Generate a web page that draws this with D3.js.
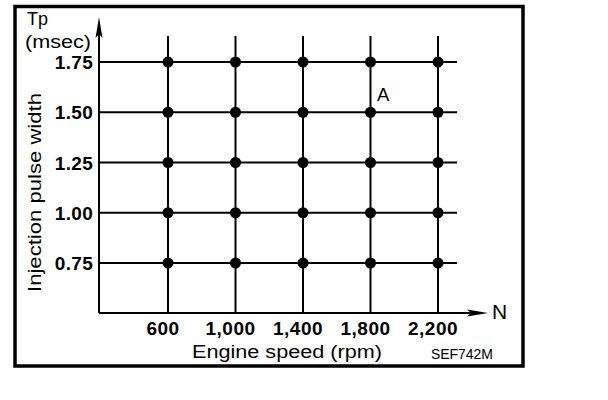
<!DOCTYPE html>
<html><head><meta charset="utf-8">
<script src="https://cdn.jsdelivr.net/npm/d3@7"></script>
<style>html,body{margin:0;padding:0;background:#fff}svg{display:block}</style>
</head><body><svg id="c" width="608" height="400"></svg>
<script>
const speeds = [600, 1000, 1400, 1800, 2200];
const speedLabels = ["600", "1,000", "1,400", "1,800", "2,200"];
const pulseWidths = [0.75, 1.00, 1.25, 1.50, 1.75];
const pulseLabels = ["0.75", "1.00", "1.25", "1.50", "1.75"];
const points = [];
speeds.forEach(s => pulseWidths.forEach(p => points.push({s, p})));

const svg = d3.select("#c");
const x = d3.scaleLinear().domain([600, 2200]).range([168, 438]);
const y = d3.scaleLinear().domain([0.75, 1.75]).range([263, 62]);
const x0 = 99, y0 = 313;
const font = "'Liberation Sans', Arial, sans-serif";

// frame
svg.append("rect").attr("x", 15).attr("y", 6.5).attr("width", 508).attr("height", 359.5)
  .attr("fill", "none").attr("stroke", "#000").attr("stroke-width", 3.5);

// grid
svg.selectAll("line.h").data(pulseWidths).join("line").attr("class","h")
  .attr("x1", x0).attr("x2", 457).attr("y1", d => y(d)).attr("y2", d => y(d))
  .attr("stroke", "#000").attr("stroke-width", 2);
svg.selectAll("line.v").data(speeds).join("line").attr("class","v")
  .attr("x1", d => x(d)).attr("x2", d => x(d)).attr("y1", 36).attr("y2", y0)
  .attr("stroke", "#000").attr("stroke-width", 2);

// axes
svg.append("line").attr("x1", x0).attr("x2", x0).attr("y1", 22).attr("y2", y0)
  .attr("stroke", "#000").attr("stroke-width", 2);
svg.append("line").attr("x1", x0).attr("x2", 480).attr("y1", y0).attr("y2", y0)
  .attr("stroke", "#000").attr("stroke-width", 2);
svg.append("path").attr("d", `M${x0},17 L${x0+3.5},38 L${x0},34 L${x0-3.5},38 Z`).attr("fill", "#000");
svg.append("path").attr("d", `M488,${y0} L467,${y0-3.5} L471,${y0} L467,${y0+3.5} Z`).attr("fill", "#000");

// dots
svg.selectAll("circle").data(points).join("circle")
  .attr("cx", d => x(d.s)).attr("cy", d => y(d.p)).attr("r", 5.5).attr("fill", "#000");

// tick labels
svg.selectAll("text.yt").data(pulseWidths).join("text").attr("class","yt")
  .attr("x", 93).attr("y", d => y(d) + 7).attr("text-anchor", "end")
  .attr("font-family", font).attr("font-weight", "bold").attr("font-size", 19)
  .attr("letter-spacing", 0.3)
  .text((d, i) => pulseLabels[i]);
svg.selectAll("text.xt").data(speeds).join("text").attr("class","xt")
  .attr("x", d => x(d) - 5).attr("y", 335).attr("text-anchor", "middle")
  .attr("font-family", font).attr("font-weight", "bold").attr("font-size", 19)
  .attr("letter-spacing", 0.5)
  .text((d, i) => speedLabels[i]);

// titles
svg.append("text").attr("x", 192).attr("y", 358)
  .attr("textLength", 190).attr("lengthAdjust", "spacingAndGlyphs")
  .attr("font-family", font).attr("font-size", 18).text("Engine speed (rpm)");
svg.append("text").attr("x", 431).attr("y", 359)
  .attr("textLength", 62).attr("lengthAdjust", "spacingAndGlyphs")
  .attr("font-family", font).attr("font-size", 14.5).text("SEF742M");
svg.append("text").attr("x", 492).attr("y", 319)
  .attr("font-family", font).attr("font-size", 21).text("N");
svg.append("text").attr("x", 27).attr("y", 25)
  .attr("font-family", font).attr("font-size", 18).text("Tp");
svg.append("text").attr("x", 25).attr("y", 48)
  .attr("textLength", 66).attr("lengthAdjust", "spacingAndGlyphs")
  .attr("font-family", font).attr("font-size", 18).text("(msec)");
svg.append("text").attr("transform", "translate(41,292) rotate(-90)")
  .attr("textLength", 199).attr("lengthAdjust", "spacingAndGlyphs")
  .attr("font-family", font).attr("font-size", 18).text("Injection pulse width");
svg.append("text").attr("x", 377).attr("y", 101)
  .attr("font-family", font).attr("font-size", 18.5).text("A");
</script></body></html>
